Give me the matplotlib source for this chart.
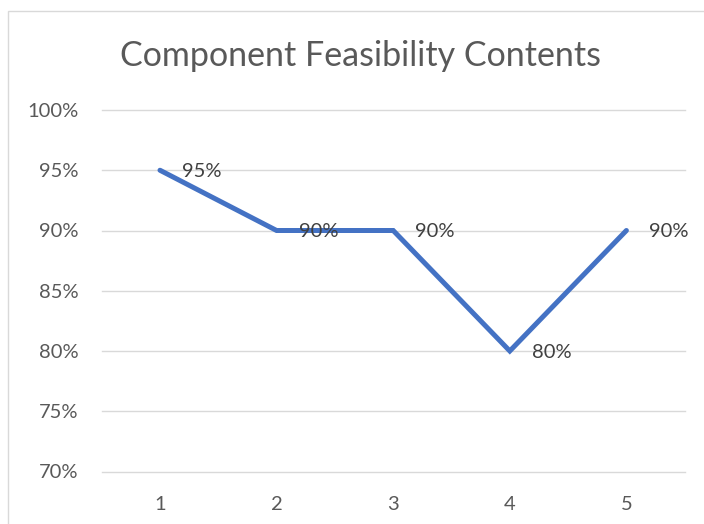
import matplotlib
matplotlib.use("Agg")
import matplotlib.pyplot as plt
from matplotlib.patches import Rectangle
from matplotlib.ticker import FuncFormatter

categories = ["1", "2", "3", "4", "5"]
values = [0.95, 0.90, 0.90, 0.80, 0.90]
labels = ["95%", "90%", "90%", "80%", "90%"]
yticks = [0.70, 0.75, 0.80, 0.85, 0.90, 0.95, 1.00]

plt.rcParams['font.family'] = ['Lato', 'DejaVu Sans']

fig = plt.figure(figsize=(7.04, 5.24), dpi=100)
fig.patch.set_facecolor("white")
# chart border
fig.patches.append(Rectangle((8/704, -0.05), 1.2, 1 - 11/524 + 0.05, transform=fig.transFigure,
                             fill=False, edgecolor="#D9D9D9", linewidth=1.0))

ax = fig.add_axes([101.7/704, 1 - 471.5/524, 583/704, 361.5/524])
x = list(range(len(categories)))
ax.plot(x, values, color="#4472C4", linewidth=3.6, solid_joinstyle="miter",
        solid_capstyle="round", zorder=3)
for xi, v, lab in zip(x, values, labels):
    ax.annotate(lab, (xi, v), xytext=(16, -1), textcoords="offset points",
                ha="left", va="center", fontsize=14.5, color="#404040", zorder=4)

ax.set_xlim(-0.5, len(categories) - 0.5)
ax.set_ylim(0.70, 1.00)
ax.set_yticks(yticks)
ax.yaxis.set_major_formatter(FuncFormatter(lambda v, p: f"{v*100:.0f}%"))
ax.set_xticks(x)
ax.set_xticklabels(categories)
ax.grid(axis="y", color="#D9D9D9", linewidth=1.0)
for gl in ax.get_ygridlines():
    gl.set_clip_on(False)
ax.set_axisbelow(True)
for s in ax.spines.values():
    s.set_visible(False)
ax.tick_params(axis="both", length=0, labelsize=14.5, labelcolor="#595959")
ax.tick_params(axis="x", pad=18)
ax.yaxis.set_tick_params(pad=16.5)

fig.text(360.5/704, 1 - 66/524, "Component Feasibility Contents", ha="center", va="baseline",
         fontsize=24.5, color="#595959")

fig.savefig("out.png", dpi=100)
